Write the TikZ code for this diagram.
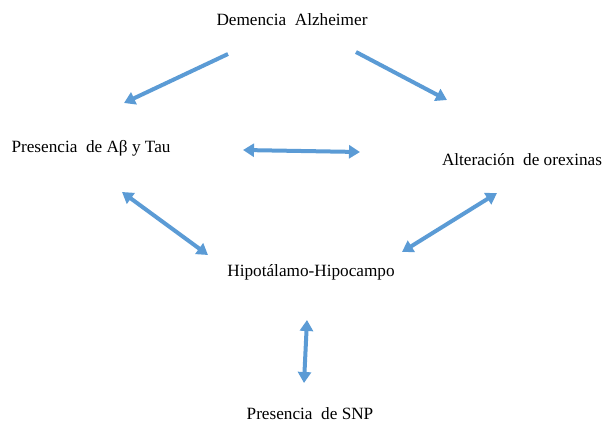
\documentclass[tikz,border=0pt]{standalone}
\usepackage{fontspec}
\setmainfont{Liberation Serif}
\usetikzlibrary{arrows.meta}
\definecolor{azul}{HTML}{5B9BD5}
\tikzset{
  flecha/.style={azul,line width=4pt,-{Triangle[width=13pt,length=11pt]}},
  doble/.style={azul,line width=4pt,{Triangle[width=13pt,length=11pt]}-{Triangle[width=13pt,length=11pt]}},
  etiqueta/.style={font=\fontsize{17.2}{20}\selectfont,inner sep=0pt}
}
\begin{document}
\begin{tikzpicture}[x=1pt,y=-1pt]
        \useasboundingbox (0,0) rectangle (606,424);
        % Nodos
        \node[etiqueta] (dem) at (292,20) {Demencia~ Alzheimer};
        \node[etiqueta] (abt) at (91,148) {Presencia~ de Aβ y Tau};
        \node[etiqueta] (ore) at (522,160) {Alteración~ de orexinas};
        \node[etiqueta] (hip) at (311,272) {Hipotálamo-Hipocampo};
        \node[etiqueta] (snp) at (310,414) {Presencia~ de SNP};

        % Extremos de las flechas
        \coordinate (d1) at (228,54);  \coordinate (a1) at (124,103);
        \coordinate (d2) at (356,52);  \coordinate (o2) at (447,100);
        \coordinate (a3) at (243,150); \coordinate (o3) at (360,152);
        \coordinate (a4) at (122,192); \coordinate (h4) at (208,255);
        \coordinate (o5) at (497,193); \coordinate (h5) at (402,252);
        \coordinate (h6) at (307,320); \coordinate (s6) at (304,383);

        \draw[flecha] (d1) -- (a1);
        \draw[flecha] (d2) -- (o2);
        \draw[doble] (a3) -- (o3);
        \draw[doble] (a4) -- (h4);
        \draw[doble] (o5) -- (h5);
        \draw[doble] (h6) -- (s6);
      \end{tikzpicture}
\end{document}
